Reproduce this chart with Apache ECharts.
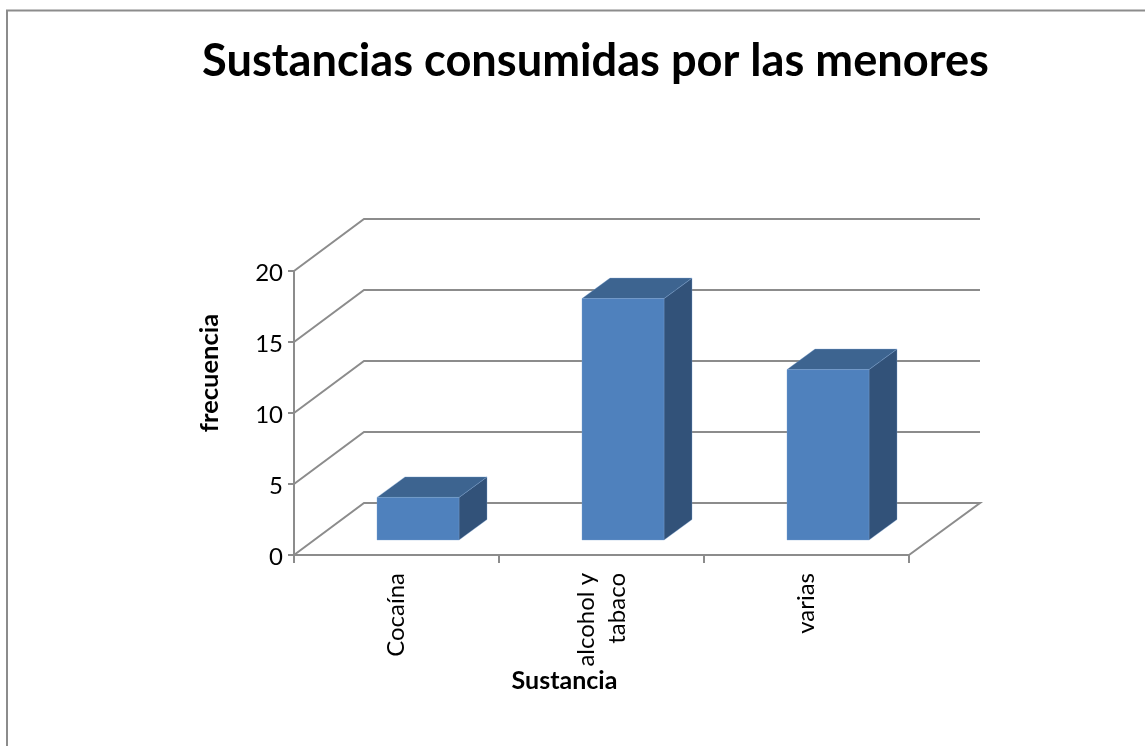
<!DOCTYPE html>
<html>
<head>
<meta charset="utf-8">
<style>
  html, body { margin: 0; padding: 0; background: #fff; }
  #chart { width: 1145px; height: 746px; }
</style>
<script src="https://cdn.jsdelivr.net/npm/echarts@6/dist/echarts.min.js"></script>
</head>
<body>
<div id="chart"></div>
<script>
  const categories = ['Cocaína', 'alcohol y\ntabaco', 'varias']
  const frecuencia = [3, 17, 12]
  const yTicks = [0, 5, 10, 15, 20]

  const lineColor = '#8c8c8c'
  // desplazamiento de la pared del fondo y de la base / fondo de las barras
  const wallDx = 70
  const wallDy = -52
  const baseDx = 21.5
  const baseDy = -15
  const depthDx = 28
  const depthDy = -20.5
  const barRatio = 0.4

  const chart = echarts.init(document.getElementById('chart'))

  function renderWall(params, api) {
    const rect = params.coordSys
    const y = api.coord([0, api.value(0)])[1]
    const x0 = rect.x
    const x1 = rect.x + rect.width
    const points = [[x0, y], [x0 + wallDx, y + wallDy], [x1 + wallDx + 1, y + wallDy]]
    // el suelo cierra el paralelogramo con la esquina frontal
    if (api.value(0) === 0) points.push([x1, y])
    return {
      type: 'polyline',
      shape: { points },
      style: { stroke: lineColor, lineWidth: 2, fill: null },
      silent: true
    }
  }

  function renderBar(params, api) {
    const front = api.coord([api.value(0), api.value(1)])
    const zero = api.coord([api.value(0), 0])
    const w = api.size([1, 0])[0] * barRatio
    const l = front[0] - w / 2 + baseDx
    const r = l + w
    const t = front[1] + baseDy
    const b = zero[1] + baseDy
    const edge = 'rgba(120,160,210,0.7)'
    return {
      type: 'group',
      children: [
        {
          type: 'polygon',
          shape: { points: [[r, t], [r + depthDx, t + depthDy], [r + depthDx, b + depthDy], [r, b]] },
          style: { fill: '#325279', stroke: edge, lineWidth: 0.5 }
        },
        {
          type: 'polygon',
          shape: { points: [[l, t], [l + depthDx, t + depthDy], [r + depthDx, t + depthDy], [r, t]] },
          style: { fill: '#3d6490', stroke: edge, lineWidth: 0.5 }
        },
        {
          type: 'rect',
          shape: { x: l, y: t, width: w, height: b - t },
          style: { fill: '#4f81bd', stroke: edge, lineWidth: 0.5 }
        }
      ]
    }
  }

  chart.setOption({
    animation: false,
    backgroundColor: '#fff',
    title: {
      text: 'Sustancias consumidas por las menores',
      left: 590.5,
      top: 34,
      textAlign: 'center',
      textStyle: { fontFamily: 'Lato', fontWeight: 'bold', fontSize: 45.2, color: '#000' }
    },
    graphic: [
      {
        type: 'polyline',
        shape: { points: [[7, 746], [7, 10.5], [1145, 10.5]] },
        style: { stroke: '#8c8c8c', lineWidth: 2, fill: null }
      },
      {
        type: 'text',
        x: 564.5,
        y: 681,
        style: {
          text: 'Sustancia',
          fontFamily: 'Lato',
          fontWeight: 'bold',
          fontSize: 25,
          fill: '#000',
          align: 'center',
          verticalAlign: 'middle'
        }
      },
      {
        type: 'text',
        x: 210,
        y: 373,
        rotation: Math.PI / 2,
        style: {
          text: 'frecuencia',
          fontFamily: 'Lato',
          fontWeight: 'bold',
          fontSize: 25.5,
          fill: '#000',
          align: 'center',
          verticalAlign: 'middle'
        }
      }
    ],
    grid: { left: 294, top: 271, width: 615, height: 284 },
    xAxis: {
      type: 'category',
      data: categories,
      axisLine: { lineStyle: { color: lineColor, width: 2 } },
      axisTick: { show: true, length: 8, lineStyle: { color: lineColor, width: 2 } },
      axisLabel: {
        rotate: 90,
        margin: 18,
        fontFamily: 'Lato',
        fontSize: 24,
        color: '#000',
        lineHeight: 31,
        interval: 0
      }
    },
    yAxis: {
      type: 'value',
      min: 0,
      max: 20,
      interval: 5,
      axisLine: { show: true, lineStyle: { color: lineColor, width: 2 } },
      axisTick: { show: true, length: 6, lineStyle: { color: lineColor, width: 2 } },
      axisLabel: {
        margin: 11,
        formatter: '{n|{value}}',
        rich: {
          n: { padding: [4, 0, 0, 0], fontFamily: 'Lato', fontSize: 24, color: '#000' }
        }
      },
      splitLine: { show: false }
    },
    series: [
      {
        type: 'custom',
        name: 'paredes',
        renderItem: renderWall,
        data: yTicks.map(v => [v]),
        encode: { y: 0 },
        silent: true,
        z: 1
      },
      {
        type: 'custom',
        name: 'frecuencia',
        renderItem: renderBar,
        data: frecuencia.map((v, i) => [i, v]),
        encode: { x: 0, y: 1 },
        z: 2
      }
    ]
  })
</script>
</body>
</html>
